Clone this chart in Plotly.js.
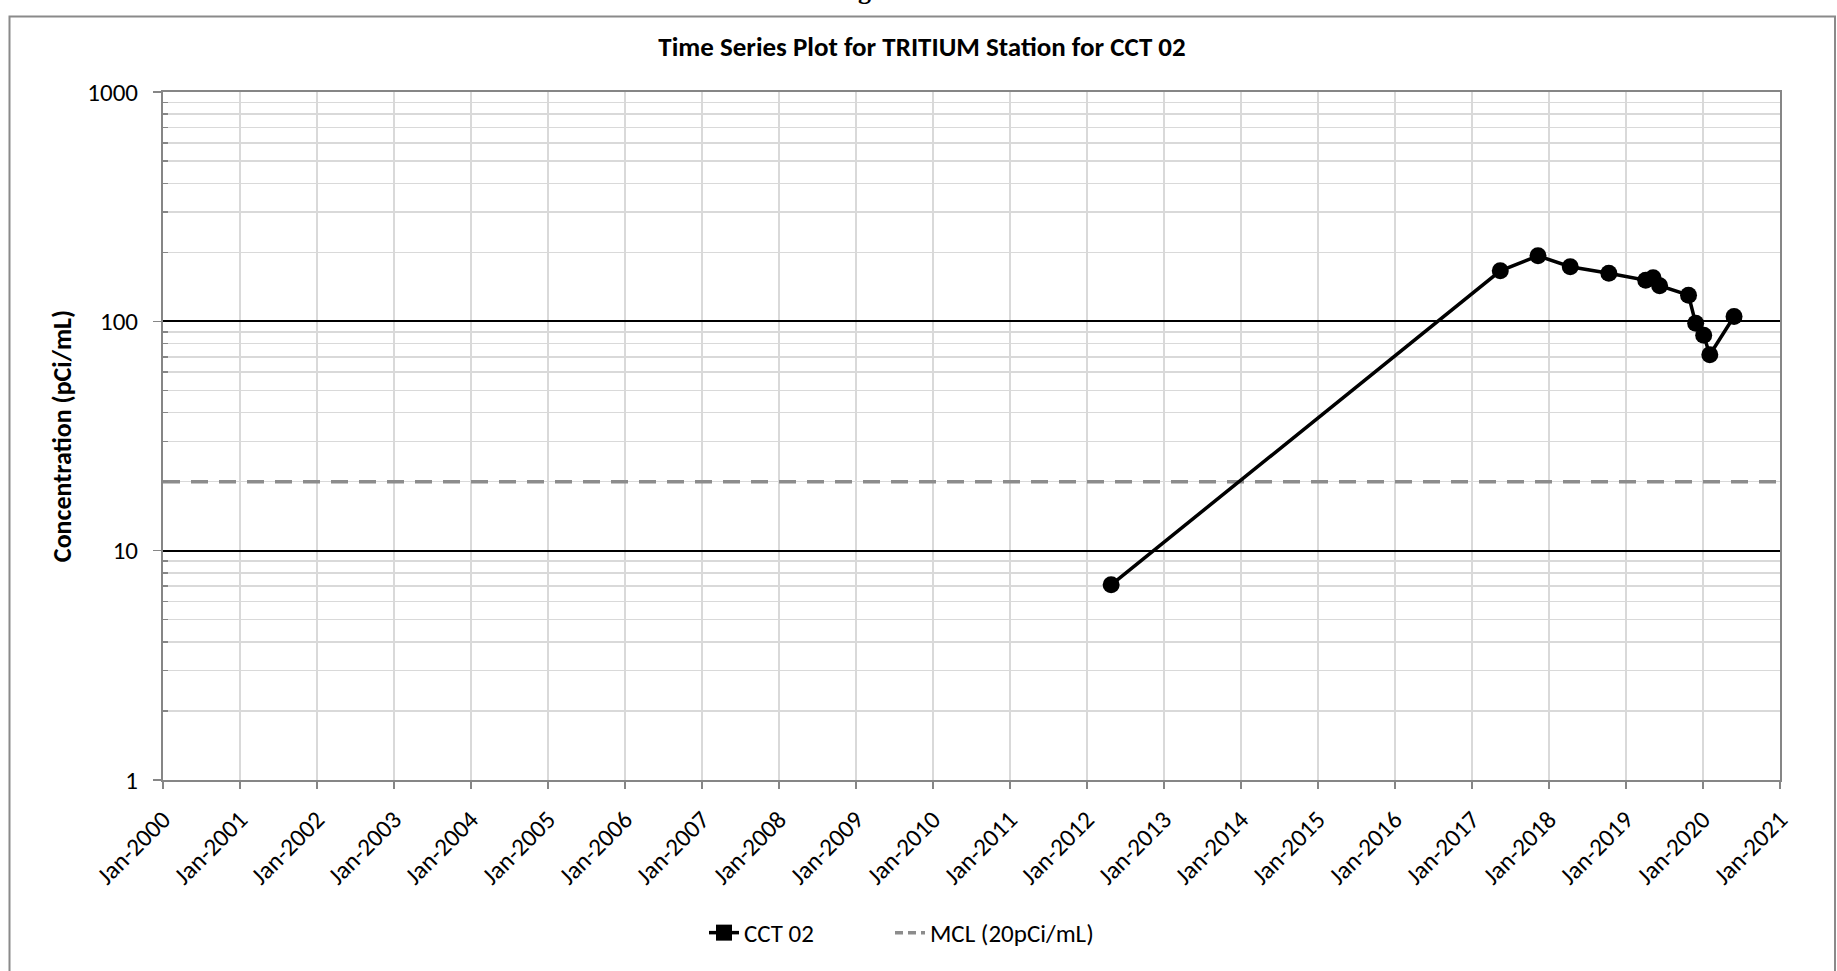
<!DOCTYPE html>
<html>
<head>
<meta charset="utf-8">
<script src="https://cdn.plot.ly/plotly-3.0.1.min.js"></script>
<style>
  html, body { margin: 0; padding: 0; background: #ffffff; }
  #chart { width: 1837px; height: 971px; }
</style>
</head>
<body>
<div id="chart"></div>
<script>
// ---- data ----
const sampleDates = ['2012-04-25', '2017-05-15', '2017-11-10', '2018-04-12', '2018-10-12',
                     '2019-04-05', '2019-05-10', '2019-06-10', '2019-10-25', '2019-11-28',
                     '2020-01-05', '2020-02-03', '2020-05-28'];
const cct02Values = [7.1, 166, 193, 173, 162, 151, 155, 143, 130, 98, 87, 71.5, 105];
const mclDates = ['2000-01-01', '2021-01-01'];
const mclValues = [20, 20];
const yTickValues = [1, 10, 100, 1000];
const yTickLabels = ['1', '10', '100', '1000'];
const seriesName = 'CCT 02';
const mclName = 'MCL (20pCi/mL)';
const chartTitle = 'Time Series Plot for TRITIUM Station for CCT 02';
const yTitle = 'Concentration (pCi/mL)';

const FONT = 'Carlito, Lato, sans-serif';
const AXIS_GRAY = '#868686';
const GRID_GRAY = '#d9d9d9';
const MCL_GRAY = '#8c8c8c';

const minorVals = [];
for (let d = 1; d <= 100; d *= 10) for (let k = 2; k <= 9; k++) minorVals.push(k * d);

const traces = [
  { // legend entry for the sample series (Excel shows a square)
    x: [null], y: [null], name: seriesName, mode: 'lines+markers', legendwidth: 141,
    line: { color: '#000000', width: 3.5 },
    marker: { symbol: 'square', size: 16, color: '#000000' },
    hoverinfo: 'skip'
  },
  { // legend entry for the MCL line (compact dash so the short legend swatch reads as dashed)
    x: [null], y: [null], name: mclName, mode: 'lines',
    line: { color: MCL_GRAY, width: 3.5, dash: '8px,5px' },
    hoverinfo: 'skip'
  },
  {
    x: mclDates, y: mclValues, name: mclName, mode: 'lines', showlegend: false,
    line: { color: MCL_GRAY, width: 3.5, dash: '17px,11px' }
  },
  {
    x: sampleDates, y: cct02Values, name: seriesName, mode: 'lines+markers',
    showlegend: false,
    line: { color: '#000000', width: 3.5 },
    marker: { symbol: 'circle', size: 17, color: '#000000' }
  }
];

// plot-area geometry (px) for placing decorations
const L = 163, R = 1780, T = 91.5, B = 780, W = 1837, H = 971;
const px = v => (v - L) / (R - L);
const py = v => (B - v) / (B - T);

const layout = {
  width: W, height: H,
  paper_bgcolor: '#ffffff', plot_bgcolor: '#ffffff',
  margin: { l: L, r: W - R, t: T, b: H - B },
  font: { family: FONT, color: '#000000', size: 25 },
  title: {
    text: '<b>' + chartTitle + '</b>',
    font: { family: FONT, size: 27, color: '#000000' },
    x: px(922), xref: 'paper', xanchor: 'center',
    y: 1 - 47 / H, yref: 'container', yanchor: 'middle'
  },
  showlegend: true,
  legend: {
    orientation: 'h', x: px(704), xanchor: 'left', y: py(933), yanchor: 'middle',
    font: { family: FONT, size: 25 }, bgcolor: 'rgba(0,0,0,0)'
  },
  xaxis: {
    type: 'date', range: ['2000-01-01', '2021-01-01'],
    tick0: '2000-01-01', dtick: 'M12', tickformat: '%b-%Y', tickangle: -45,
    tickfont: { family: FONT, size: 25 }, ticklabelstandoff: 6,
    showgrid: true, gridcolor: GRID_GRAY, gridwidth: 1.5,
    showline: true, linecolor: AXIS_GRAY, linewidth: 2, mirror: true,
    ticks: 'outside', ticklen: 7, tickwidth: 1.5, tickcolor: AXIS_GRAY,
    zeroline: false, fixedrange: true
  },
  xaxis2: {
    type: 'date', range: ['2000-01-01', '2021-01-01'], overlaying: 'x', anchor: 'y', side: 'bottom',
    tick0: '2000-01-01', dtick: 'M12', showticklabels: false, showgrid: false, showline: false,
    ticks: 'inside', ticklen: 7, tickwidth: 1.5, tickcolor: AXIS_GRAY, zeroline: false
  },
  yaxis: {
    type: 'log', range: [0, 3],
    tickmode: 'array', tickvals: yTickValues, ticktext: yTickLabels,
    tickfont: { family: FONT, size: 25 }, ticklabelstandoff: 10,
    title: { text: '<b>' + yTitle + '</b>', font: { family: FONT, size: 26 }, standoff: 8 },
    showgrid: true, gridcolor: '#000000', gridwidth: 2,
    showline: true, linecolor: AXIS_GRAY, linewidth: 2, mirror: true,
    ticks: 'outside', ticklen: 8, tickwidth: 1.5, tickcolor: AXIS_GRAY,
    minor: { tickmode: 'array', tickvals: minorVals, showgrid: true, gridcolor: GRID_GRAY, gridwidth: 1.5,
             ticks: 'inside', ticklen: 5, tickwidth: 1.5, tickcolor: AXIS_GRAY },
    zeroline: false, fixedrange: true
  },
  shapes: [
    { type: 'rect', xref: 'paper', yref: 'paper', layer: 'below',
      x0: px(9.5), x1: px(1835), y0: py(990), y1: py(16),
      line: { color: '#8a8a8a', width: 2 }, fillcolor: 'rgba(0,0,0,0)' }
  ],
  annotations: [
    { text: '<b>g</b>', xref: 'paper', yref: 'paper', x: px(864), y: py(-10), xanchor: 'center', yanchor: 'middle',
      showarrow: false, font: { family: 'Liberation Serif, serif', size: 26, color: '#000000' } }
  ]
};

Plotly.newPlot('chart', traces, layout, { displayModeBar: false, staticPlot: true });
</script>
</body>
</html>
